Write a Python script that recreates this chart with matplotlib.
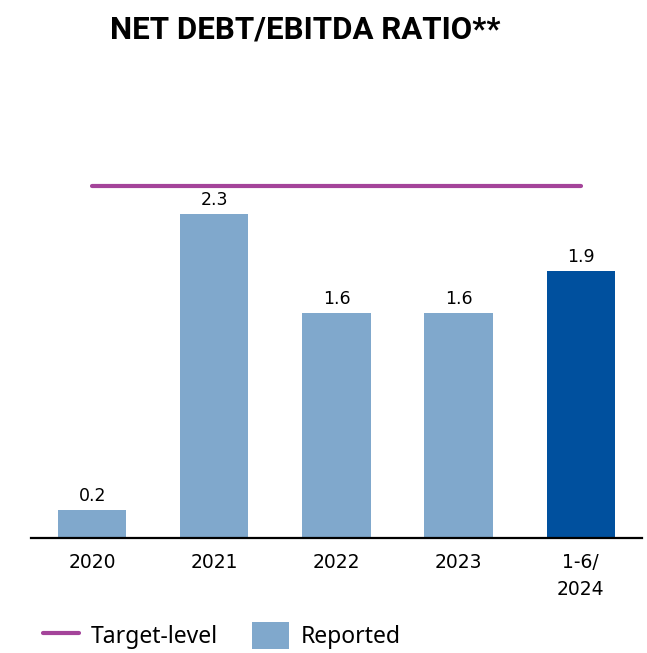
import matplotlib

matplotlib.use("Agg")
import matplotlib.pyplot as plt
from matplotlib.lines import Line2D
from matplotlib.patches import Patch

plt.rcParams["font.family"] = ["DejaVu Sans"]

categories = ["2020", "2021", "2022", "2023", "1-6/\n2024"]
ratios = [0.2, 2.3, 1.6, 1.6, 1.9]
target_level = 2.5

LIGHT = "#80A8CC"
DARK = "#00509E"
TARGET = "#A4449A"

fig = plt.figure(figsize=(6.47, 6.53), dpi=100)
ax = fig.add_axes([0.048, 0.176, 0.944, 0.582])

x = list(range(len(categories)))
colors = [LIGHT] * (len(categories) - 1) + [DARK]
ax.bar(x, ratios, width=0.56, color=colors)
ax.plot([x[0], x[-1]], [target_level, target_level], color=TARGET,
        linewidth=3, solid_capstyle="round")

for xi, v in zip(x, ratios):
    ax.text(xi, v + 0.035, f"{v:.1f}", ha="center", va="bottom", fontsize=12.5)

ax.set_xlim(-0.5, 4.5)
ax.set_ylim(0, 2.7)
ax.set_xticks(x)
ax.set_xticklabels(categories, fontsize=13.5, linespacing=1.5)
ax.tick_params(axis="x", length=0, pad=11)
ax.set_yticks([])
for side in ("top", "right", "left"):
    ax.spines[side].set_visible(False)
ax.spines["bottom"].set_linewidth(1.6)

fig.text(0.472, 0.955, "NET DEBT/EBITDA RATIO**", ha="center", va="center",
         fontsize=22.5, fontweight="bold", family=["Roboto", "DejaVu Sans"])

handles = [
    Line2D([0], [0], color=TARGET, linewidth=3, solid_capstyle="round"),
    Patch(facecolor=LIGHT),
]
fig.legend(handles, ["Target-level", "Reported"], loc="lower left",
           bbox_to_anchor=(0.066, 0.006), ncol=2, frameon=False,
           borderpad=0, borderaxespad=0,
           prop={"family": ["Noto Sans", "DejaVu Sans"], "size": 16.5},
           handlelength=1.6, handleheight=1.4, columnspacing=1.5,
           handletextpad=0.5)

fig.savefig("out.png", dpi=100)
